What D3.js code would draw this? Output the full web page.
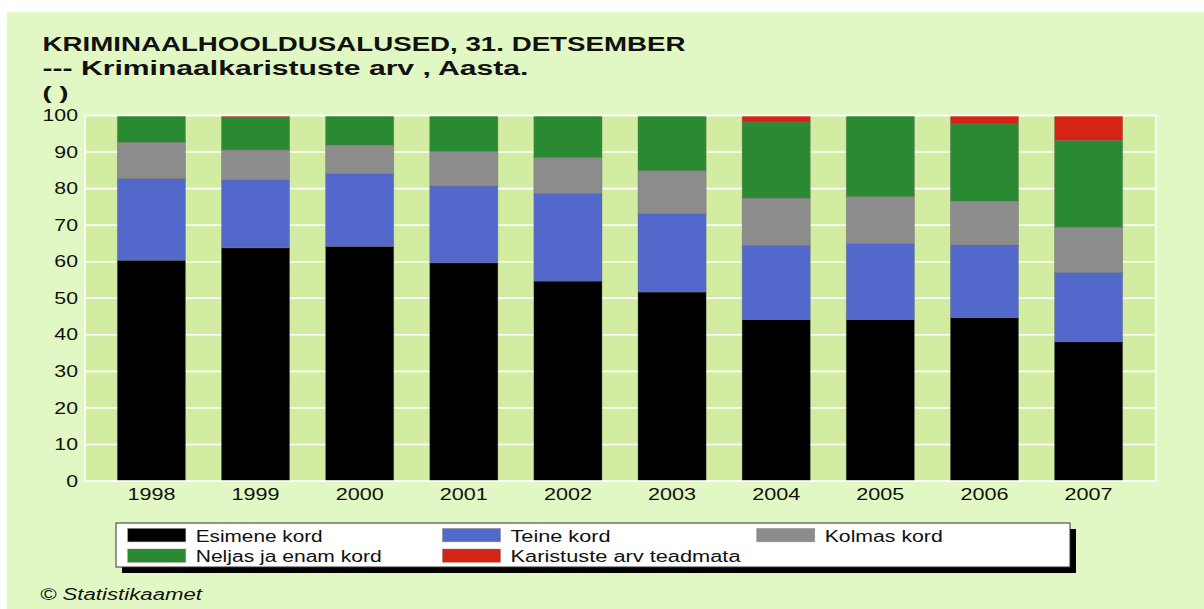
<!DOCTYPE html>
<html>
<head>
<meta charset="utf-8">
<script src="https://cdn.jsdelivr.net/npm/d3@7"></script>
<style>
  html, body { margin: 0; padding: 0; background: #ffffff; }
  svg { display: block; }
  text { font-family: "Liberation Sans", Arial, sans-serif; fill: #111; }
</style>
</head>
<body>
<svg id="chart" width="1204" height="609"></svg>
<script>
// ---------- DATA ----------
const years = ["1998", "1999", "2000", "2001", "2002", "2003", "2004", "2005", "2006", "2007"];
const seriesNames = ["Esimene kord", "Teine kord", "Kolmas kord", "Neljas ja enam kord", "Karistuste arv teadmata"];
const esimene = [60.4, 63.8, 64.2, 59.7, 54.7, 51.7, 44.2, 44.2, 44.7, 38.1];
const teine   = [22.4, 18.6, 19.9, 21.0, 24.0, 21.5, 20.3, 20.8, 19.9, 19.0];
const kolmas  = [ 9.9,  8.2,  7.8,  9.5,  9.8, 11.7, 12.9, 12.8, 12.0, 12.4];
const neljas  = [ 7.3,  9.0,  8.1,  9.8, 11.5, 15.1, 20.8, 22.2, 21.1, 23.7];
const teadmata= [ 0.0,  0.4,  0.0,  0.0,  0.0,  0.0,  1.8,  0.0,  2.3,  6.8];
const yTicks = [0, 10, 20, 30, 40, 50, 60, 70, 80, 90, 100];
const titleText = "KRIMINAALHOOLDUSALUSED, 31. DETSEMBER";
const subtitleText = "--- Kriminaalkaristuste arv , Aasta.";
const unitText = "( )";
const creditText = "© Statistikaamet";

// ---------- STYLE ----------
const colors = ["#000000", "#5269cb", "#8c8c8c", "#2a8a32", "#d62414"];
const outerBg = "#e2f8c4";
const plotBg = "#d2eca2";

const svg = d3.select("#chart");
svg.append("rect").attr("x", 7).attr("y", 12).attr("width", 1204 - 7).attr("height", 609 - 12).attr("fill", outerBg);

const plot = { left: 85, right: 1156, top: 115.5, bottom: 481 };

const table = years.map((y, i) => ({
  year: y,
  [seriesNames[0]]: esimene[i],
  [seriesNames[1]]: teine[i],
  [seriesNames[2]]: kolmas[i],
  [seriesNames[3]]: neljas[i],
  [seriesNames[4]]: teadmata[i]
}));
const stacked = d3.stack().keys(seriesNames)(table);

const x = d3.scaleBand().domain(years).range([plot.left - 1, plot.right]).paddingInner(0.3455).paddingOuter(0.32);
const y = d3.scaleLinear().domain([0, 100]).range([plot.bottom, plot.top]);

// plot background
svg.append("rect").attr("x", plot.left).attr("y", plot.top)
  .attr("width", plot.right - plot.left).attr("height", plot.bottom - plot.top)
  .attr("fill", plotBg);

// gridlines
svg.append("g").selectAll("line").data(yTicks).join("line")
  .attr("x1", plot.left).attr("x2", plot.right)
  .attr("y1", d => y(d)).attr("y2", d => y(d))
  .attr("stroke", "#ffffff").attr("stroke-width", 1.6);

// bars
svg.append("g").selectAll("g").data(stacked).join("g")
  .attr("fill", (d, i) => colors[i])
  .selectAll("rect").data(d => d.filter(s => s[1] - s[0] > 0)).join("rect")
  .attr("x", d => x(d.data.year))
  .attr("width", x.bandwidth())
  .attr("y", d => y(d[1]))
  .attr("height", d => y(d[0]) - y(d[1]))
  .attr("stroke", "rgba(110,110,110,0.45)")
  .attr("stroke-width", 0.8);

// plot border (white)
svg.append("rect").attr("x", plot.left).attr("y", plot.top)
  .attr("width", plot.right - plot.left).attr("height", plot.bottom - plot.top)
  .attr("fill", "none").attr("stroke", "#ffffff").attr("stroke-width", 1.6);

// y axis
const sxY = 1.33;
const yAxis = svg.append("g").attr("transform", `translate(${plot.left},0)`)
  .call(d3.axisLeft(y).tickValues(yTicks).tickSize(0).tickPadding(7).tickFormat(d3.format("d")));
yAxis.select(".domain").remove();
yAxis.selectAll("text")
  .attr("x", -7 / sxY)
  .attr("transform", `scale(${sxY},1)`)
  .style("font-size", "16px").style("font-family", "'Liberation Sans', Arial, sans-serif").attr("fill", "#111");

// x axis
const sxX = 1.35;
const xAxis = svg.append("g").attr("transform", `translate(0,${plot.bottom})`)
  .call(d3.axisBottom(x).tickSize(0).tickPadding(8));
xAxis.select(".domain").remove();
xAxis.selectAll("text")
  .attr("transform", `scale(${sxX},1)`)
  .attr("dy", "0.71em")
  .style("font-size", "16px").style("font-family", "'Liberation Sans', Arial, sans-serif").attr("fill", "#111");

// titles
function stretchedText(g, txt, xx, yy, width, size, weight, style) {
  return g.append("text").attr("x", xx).attr("y", yy)
    .attr("textLength", width).attr("lengthAdjust", "spacingAndGlyphs")
    .style("font-size", size + "px").style("font-weight", weight || "normal")
    .style("font-style", style || "normal")
    .text(txt);
}
stretchedText(svg, titleText, 42.5, 51, 643, 19.5, "bold");
stretchedText(svg, subtitleText, 42.5, 75, 486, 19.5, "bold");
stretchedText(svg, unitText, 42.5, 99, 26, 18, "bold");

// legend
const legend = { x: 116, y: 523, w: 954, h: 44 };
svg.append("rect").attr("x", legend.x + 6).attr("y", legend.y + 6).attr("width", legend.w).attr("height", legend.h).attr("fill", "#000");
svg.append("rect").attr("x", legend.x).attr("y", legend.y).attr("width", legend.w).attr("height", legend.h)
  .attr("fill", "#ffffff").attr("stroke", "#333").attr("stroke-width", 1);
const legendCols = [127.7, 442.5, 756.7];
const legendRowsY = [528.5, 549];
const legendTextW = [127, 100, 118, 186, 230];
seriesNames.forEach((name, i) => {
  const col = i % 3, row = Math.floor(i / 3);
  const lx = legendCols[col], ly = legendRowsY[row];
  svg.append("rect").attr("x", lx).attr("y", ly).attr("width", 58).attr("height", 13.3)
    .attr("fill", colors[i]).attr("stroke", "rgba(120,120,120,0.5)").attr("stroke-width", 0.8);
  stretchedText(svg, name, lx + 68, ly + 13, legendTextW[i], 16, "normal");
});

// credit
stretchedText(svg, creditText, 40, 600, 162, 16, "normal", "italic");
</script>
</body>
</html>
